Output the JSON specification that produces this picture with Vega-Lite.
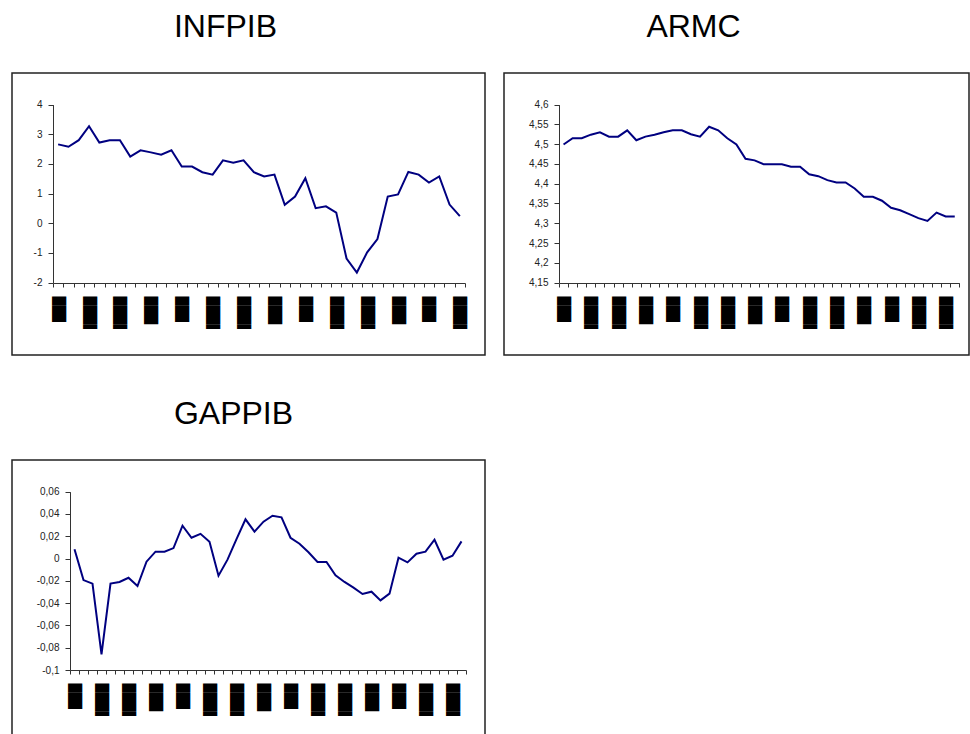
{
  "$schema": "https://vega.github.io/schema/vega-lite/v6.json",
  "padding": {"left": 5, "top": 10, "right": 0, "bottom": 0},
  "background": "white",
  "config": {
    "locale": {"number": {"decimal": ",", "thousands": ".", "grouping": [3], "currency": ["", " €"], "minus": "-"}},
    "view": {"stroke": "#222", "strokeWidth": 1.5},
    "font": "Liberation Sans",
    "title": {"fontSize": 32, "fontWeight": "normal", "font": "Liberation Sans", "color": "black", "offset": 29, "baseline": "alphabetic", "anchor": "middle"},
    "axis": {"grid": false, "title": null, "domainColor": "#333", "tickColor": "#333", "labelColor": "#222", "labelFont": "Liberation Sans", "labelFontSize": 10, "domainWidth": 1, "tickWidth": 1},
    "axisY": {"tickSize": 5, "labelPadding": 6, "format": "~r"},
    "axisX": {"tickSize": 4, "tickBand": "extent", "labelAngle": 90, "labelFont": "DejaVu Sans", "labelFontSize": 12, "labelColor": "black", "labelPadding": 9, "labelOverlap": false}
  },
  "datasets": {
    "infpib": [
      {"periodo": "1991 I", "valor": 2.66}, {"periodo": "1991 II", "valor": 2.58}, {"periodo": "1991 III", "valor": 2.80}, {"periodo": "1991 IV", "valor": 3.27},
      {"periodo": "1992 I", "valor": 2.72}, {"periodo": "1992 II", "valor": 2.80}, {"periodo": "1992 III", "valor": 2.80}, {"periodo": "1992 IV", "valor": 2.25},
      {"periodo": "1993 I", "valor": 2.46}, {"periodo": "1993 II", "valor": 2.39}, {"periodo": "1993 III", "valor": 2.31}, {"periodo": "1993 IV", "valor": 2.46},
      {"periodo": "1994 I", "valor": 1.91}, {"periodo": "1994 II", "valor": 1.91}, {"periodo": "1994 III", "valor": 1.72}, {"periodo": "1994 IV", "valor": 1.64},
      {"periodo": "1995 I", "valor": 2.12}, {"periodo": "1995 II", "valor": 2.04}, {"periodo": "1995 III", "valor": 2.12}, {"periodo": "1995 IV", "valor": 1.72},
      {"periodo": "1996 I", "valor": 1.58}, {"periodo": "1996 II", "valor": 1.64}, {"periodo": "1996 III", "valor": 0.62}, {"periodo": "1996 IV", "valor": 0.90},
      {"periodo": "1997 I", "valor": 1.52}, {"periodo": "1997 II", "valor": 0.51}, {"periodo": "1997 III", "valor": 0.57}, {"periodo": "1997 IV", "valor": 0.36},
      {"periodo": "1998 I", "valor": -1.19}, {"periodo": "1998 II", "valor": -1.66}, {"periodo": "1998 III", "valor": -0.98}, {"periodo": "1998 IV", "valor": -0.53},
      {"periodo": "1999 I", "valor": 0.90}, {"periodo": "1999 II", "valor": 0.97}, {"periodo": "1999 III", "valor": 1.73}, {"periodo": "1999 IV", "valor": 1.64},
      {"periodo": "2000 I", "valor": 1.37}, {"periodo": "2000 II", "valor": 1.58}, {"periodo": "2000 III", "valor": 0.63}, {"periodo": "2000 IV", "valor": 0.24}
    ],
    "armc": [
      {"periodo": "1990 I", "valor": 4.499}, {"periodo": "1990 II", "valor": 4.515}, {"periodo": "1990 III", "valor": 4.515}, {"periodo": "1990 IV", "valor": 4.524},
      {"periodo": "1991 I", "valor": 4.530}, {"periodo": "1991 II", "valor": 4.519}, {"periodo": "1991 III", "valor": 4.519}, {"periodo": "1991 IV", "valor": 4.535},
      {"periodo": "1992 I", "valor": 4.510}, {"periodo": "1992 II", "valor": 4.519}, {"periodo": "1992 III", "valor": 4.524}, {"periodo": "1992 IV", "valor": 4.530},
      {"periodo": "1993 I", "valor": 4.535}, {"periodo": "1993 II", "valor": 4.535}, {"periodo": "1993 III", "valor": 4.525}, {"periodo": "1993 IV", "valor": 4.519},
      {"periodo": "1994 I", "valor": 4.544}, {"periodo": "1994 II", "valor": 4.535}, {"periodo": "1994 III", "valor": 4.515}, {"periodo": "1994 IV", "valor": 4.499},
      {"periodo": "1995 I", "valor": 4.463}, {"periodo": "1995 II", "valor": 4.459}, {"periodo": "1995 III", "valor": 4.449}, {"periodo": "1995 IV", "valor": 4.449},
      {"periodo": "1996 I", "valor": 4.449}, {"periodo": "1996 II", "valor": 4.443}, {"periodo": "1996 III", "valor": 4.443}, {"periodo": "1996 IV", "valor": 4.424},
      {"periodo": "1997 I", "valor": 4.419}, {"periodo": "1997 II", "valor": 4.409}, {"periodo": "1997 III", "valor": 4.403}, {"periodo": "1997 IV", "valor": 4.403},
      {"periodo": "1998 I", "valor": 4.388}, {"periodo": "1998 II", "valor": 4.367}, {"periodo": "1998 III", "valor": 4.367}, {"periodo": "1998 IV", "valor": 4.357},
      {"periodo": "1999 I", "valor": 4.339}, {"periodo": "1999 II", "valor": 4.333}, {"periodo": "1999 III", "valor": 4.323}, {"periodo": "1999 IV", "valor": 4.313},
      {"periodo": "2000 I", "valor": 4.306}, {"periodo": "2000 II", "valor": 4.327}, {"periodo": "2000 III", "valor": 4.317}, {"periodo": "2000 IV", "valor": 4.317}
    ],
    "gappib": [
      {"periodo": "1990 I", "valor": 0.0083}, {"periodo": "1990 II", "valor": -0.0193}, {"periodo": "1990 III", "valor": -0.0225}, {"periodo": "1990 IV", "valor": -0.0859},
      {"periodo": "1991 I", "valor": -0.0225}, {"periodo": "1991 II", "valor": -0.0210}, {"periodo": "1991 III", "valor": -0.0172}, {"periodo": "1991 IV", "valor": -0.0246},
      {"periodo": "1992 I", "valor": -0.0028}, {"periodo": "1992 II", "valor": 0.0062}, {"periodo": "1992 III", "valor": 0.0062}, {"periodo": "1992 IV", "valor": 0.0094},
      {"periodo": "1993 I", "valor": 0.0295}, {"periodo": "1993 II", "valor": 0.0187}, {"periodo": "1993 III", "valor": 0.0222}, {"periodo": "1993 IV", "valor": 0.0151},
      {"periodo": "1994 I", "valor": -0.0154}, {"periodo": "1994 II", "valor": -0.0010}, {"periodo": "1994 III", "valor": 0.0175}, {"periodo": "1994 IV", "valor": 0.0352},
      {"periodo": "1995 I", "valor": 0.0241}, {"periodo": "1995 II", "valor": 0.0331}, {"periodo": "1995 III", "valor": 0.0384}, {"periodo": "1995 IV", "valor": 0.0370},
      {"periodo": "1996 I", "valor": 0.0187}, {"periodo": "1996 II", "valor": 0.0133}, {"periodo": "1996 III", "valor": 0.0056}, {"periodo": "1996 IV", "valor": -0.0031},
      {"periodo": "1997 I", "valor": -0.0031}, {"periodo": "1997 II", "valor": -0.0151}, {"periodo": "1997 III", "valor": -0.0210}, {"periodo": "1997 IV", "valor": -0.0261},
      {"periodo": "1998 I", "valor": -0.0318}, {"periodo": "1998 II", "valor": -0.0297}, {"periodo": "1998 III", "valor": -0.0375}, {"periodo": "1998 IV", "valor": -0.0315},
      {"periodo": "1999 I", "valor": 0.0008}, {"periodo": "1999 II", "valor": -0.0034}, {"periodo": "1999 III", "valor": 0.0044}, {"periodo": "1999 IV", "valor": 0.0062},
      {"periodo": "2000 I", "valor": 0.0169}, {"periodo": "2000 II", "valor": -0.0010}, {"periodo": "2000 III", "valor": 0.0026}, {"periodo": "2000 IV", "valor": 0.0154}
    ]
  },
  "columns": 2,
  "spacing": {"row": 41, "column": 11},
  "concat": [
    {
      "title": {"text": "INFPIB", "dx": -23},
      "width": 473, "height": 282,
      "data": {"name": "infpib"},
      "mark": {"type": "line", "color": "#000080", "strokeWidth": 2},
      "encoding": {
        "x": {"field": "periodo", "type": "ordinal", "sort": null, "bandPosition": 0.5,
          "scale": {"type": "band", "range": [41, 453], "paddingInner": 0, "paddingOuter": 0},
          "axis": {"offset": -72, "labelExpr": "round(datum.index*39) % 3 == 0 ? ['██▊','███▌','███▌','███'][(round(datum.index*39)/3) % 4] : ''"}},
        "y": {"field": "valor", "type": "quantitative",
          "scale": {"domain": [-2, 4], "range": [209.6, 31.6], "nice": false, "zero": false},
          "axis": {"offset": -41, "values": [-2, -1, 0, 1, 2, 3, 4]}}
      }
    },
    {
      "title": {"text": "ARMC", "dx": -43},
      "width": 465, "height": 282,
      "data": {"name": "armc"},
      "mark": {"type": "line", "color": "#000080", "strokeWidth": 2},
      "encoding": {
        "x": {"field": "periodo", "type": "ordinal", "sort": null, "bandPosition": 0.5,
          "scale": {"type": "band", "range": [55, 455.3], "paddingInner": 0, "paddingOuter": 0},
          "axis": {"offset": -72, "labelExpr": "round(datum.index*43) % 3 == 0 ? ['██▊','███▌','███▌','███'][(round(datum.index*43)/3) % 4] : ''"}},
        "y": {"field": "valor", "type": "quantitative",
          "scale": {"domain": [4.15, 4.6], "range": [209.6, 31.6], "nice": false, "zero": false},
          "axis": {"offset": -55, "values": [4.15, 4.2, 4.25, 4.3, 4.35, 4.4, 4.45, 4.5, 4.55, 4.6]}}
      }
    },
    {
      "title": {"text": "GAPPIB", "dx": -15},
      "width": 473, "height": 282,
      "data": {"name": "gappib"},
      "mark": {"type": "line", "color": "#000080", "strokeWidth": 2},
      "encoding": {
        "x": {"field": "periodo", "type": "ordinal", "sort": null, "bandPosition": 0.5,
          "scale": {"type": "band", "range": [58, 454], "paddingInner": 0, "paddingOuter": 0},
          "axis": {"offset": -72, "labelExpr": "round(datum.index*43) % 3 == 0 ? ['██▊','███▌','███▌','███'][(round(datum.index*43)/3) % 4] : ''"}},
        "y": {"field": "valor", "type": "quantitative",
          "scale": {"domain": [-0.1, 0.06], "range": [210, 31.7], "nice": false, "zero": false},
          "axis": {"offset": -58, "values": [-0.1, -0.08, -0.06, -0.04, -0.02, 0, 0.02, 0.04, 0.06]}}
      }
    }
  ]
}
